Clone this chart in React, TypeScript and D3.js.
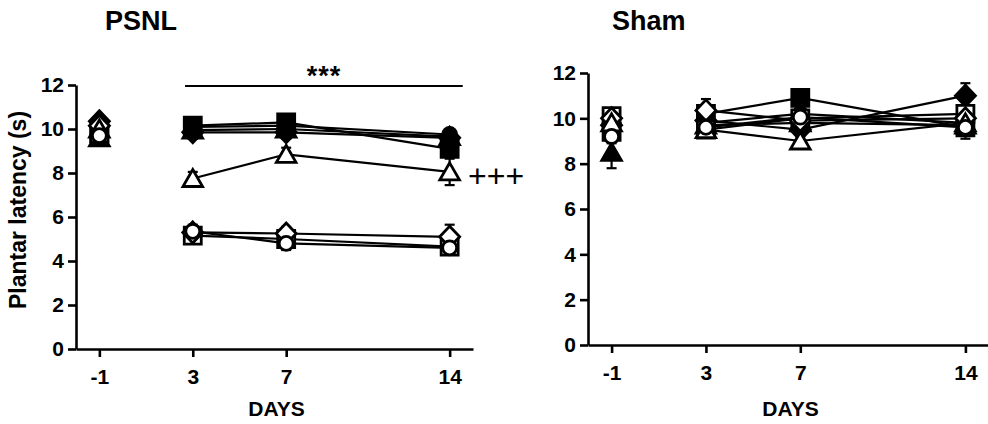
import React, { useRef, useEffect } from 'react';
import * as d3 from 'd3';

// Time points (days after surgery)
const days = [-1, 3, 7, 14];
const dayTicks = [-1, 3, 7, 14];
const yTicks = [0, 2, 4, 6, 8, 10, 12];

// Marker order: filled groups first, open groups drawn on top (circle last)
const seriesKeys = ['fSquare', 'fCircle', 'fTriangle', 'fDiamond', 'oSquare', 'oDiamond', 'oTriangle', 'oCircle'];

// PSNL panel, plantar latency (s)
const psnlValues: Record<string, number[]> = {
  fSquare: [9.8, 10.15, 10.3, 9.1],
  fCircle: [10.0, 10.1, 10.15, 9.75],
  fTriangle: [9.6, 9.95, 10.0, 9.65],
  fDiamond: [10.35, 9.85, 9.85, 9.6],
  oSquare: [9.8, 5.15, 5.0, 4.65],
  oCircle: [9.7, 5.35, 4.8, 4.6],
  oTriangle: [10.0, 7.75, 8.85, 8.05],
  oDiamond: [10.15, 5.3, 5.25, 5.1],
};
const psnlSem: Record<string, number[]> = {
  fSquare: [0.3, 0.3, 0.3, 0.3],
  fCircle: [0.3, 0.2, 0.3, 0.2],
  fTriangle: [0.3, 0.3, 0.3, 0.3],
  fDiamond: [0.2, 0.3, 0.3, 0.3],
  oSquare: [0.3, 0.3, 0.3, 0.3],
  oCircle: [0.3, 0.3, 0.3, 0.3],
  oTriangle: [0.3, 0.3, 0.3, 0.6],
  oDiamond: [0.3, 0.3, 0.3, 0.55],
};

// Sham panel
const shamValues: Record<string, number[]> = {
  fSquare: [9.4, 10.2, 10.9, 9.6],
  fCircle: [9.5, 9.8, 10.2, 9.8],
  fTriangle: [8.5, 9.7, 9.8, 9.7],
  fDiamond: [9.7, 9.9, 9.5, 11.0],
  oSquare: [10.1, 9.5, 10.0, 10.2],
  oCircle: [9.2, 9.6, 10.05, 9.6],
  oTriangle: [9.8, 9.5, 9.0, 9.8],
  oDiamond: [10.0, 10.35, 9.9, 10.0],
};
const shamSem: Record<string, number[]> = {
  fSquare: [0.3, 0.3, 0.3, 0.3],
  fCircle: [0.3, 0.3, 0.3, 0.3],
  fTriangle: [0.7, 0.3, 0.3, 0.3],
  fDiamond: [0.3, 0.3, 0.3, 0.55],
  oSquare: [0.3, 0.3, 0.3, 0.3],
  oCircle: [0.3, 0.3, 0.3, 0.5],
  oTriangle: [0.3, 0.3, 0.3, 0.3],
  oDiamond: [0.3, 0.5, 0.3, 0.3],
};

// significance bar spans (in days)
const sigSpan = [2.67, 14.56];

const FONT = '"Liberation Sans", Arial, Helvetica, sans-serif';

const shapes: Record<string, d3.SymbolType> = {
  square: { draw(ctx: any) { ctx.rect(-8.5, -8.5, 17, 17); } },
  circle: { draw(ctx: any) { ctx.moveTo(7, 0); ctx.arc(0, 0, 7, 0, 2 * Math.PI); } },
  triangle: { draw(ctx: any) { ctx.moveTo(0, -9); ctx.lineTo(9.8, 8); ctx.lineTo(-9.8, 8); ctx.closePath(); } },
  diamond: { draw(ctx: any) { ctx.moveTo(0, -10.5); ctx.lineTo(10, 0); ctx.lineTo(0, 10.5); ctx.lineTo(-10, 0); ctx.closePath(); } },
};

const shapeOf = (k: string) => k.slice(1).toLowerCase();

const drawPanel = (svg: any, opts: any) => {
  const { x0, x1, y0, y1, values, sem, title, titleX } = opts;
  const x = d3.scaleLinear().domain([-2, 15]).range([x0, x1]);
  const y = d3.scaleLinear().domain([0, 12]).range([y0, y1]);
  const g = svg.append('g');

  // axes
  const yAxis = g.append('g')
    .attr('transform', `translate(${x0},0)`)
    .call(d3.axisLeft(y).tickValues(yTicks).tickSize(8).tickSizeOuter(0).tickPadding(4));
  const xAxis = g.append('g')
    .attr('transform', `translate(0,${y0})`)
    .call(d3.axisBottom(x).tickValues(dayTicks).tickFormat((d: any) => String(d)).tickSize(8).tickSizeOuter(0).tickPadding(12));
  [yAxis, xAxis].forEach(a => {
    a.selectAll('path, line').attr('stroke', '#000').attr('stroke-width', 2.6);
    a.selectAll('text')
      .attr('fill', '#000')
      .attr('font-family', FONT)
      .attr('font-weight', 'bold')
      .attr('font-size', 21);
  });

  g.append('text')
    .attr('x', (x(-1) + x(14)) / 2 + 2)
    .attr('y', 416)
    .attr('text-anchor', 'middle')
    .attr('font-family', FONT)
    .attr('font-weight', 'bold')
    .attr('font-size', 21)
    .text('DAYS');

  g.append('text')
    .attr('x', titleX)
    .attr('y', 30)
    .attr('font-family', FONT)
    .attr('font-weight', 'bold')
    .attr('font-size', 27)
    .text(title);

  const line = d3.line<number>().x((_, i) => x(days[i + 1])).y(v => y(v));

  // connecting lines (baseline day -1 stands alone)
  seriesKeys.forEach(k => {
    g.append('path')
      .attr('d', line(values[k].slice(1)))
      .attr('fill', 'none')
      .attr('stroke', '#000')
      .attr('stroke-width', 2.2);
  });

  // error bars
  seriesKeys.forEach(k => {
    values[k].forEach((v: number, i: number) => {
      const cx = x(days[i]);
      const s = sem[k][i];
      g.append('line').attr('x1', cx).attr('x2', cx).attr('y1', y(v - s)).attr('y2', y(v + s))
        .attr('stroke', '#000').attr('stroke-width', 2.2);
      [v - s, v + s].forEach(e => {
        g.append('line').attr('x1', cx - 5).attr('x2', cx + 5).attr('y1', y(e)).attr('y2', y(e))
          .attr('stroke', '#000').attr('stroke-width', 2.2);
      });
    });
  });

  // markers
  seriesKeys.forEach(k => {
    const filled = k[0] === 'f';
    const sym = d3.symbol().type(shapes[shapeOf(k)]);
    g.selectAll(null)
      .data(values[k])
      .enter()
      .append('path')
      .attr('transform', (v: number, i: number) => `translate(${x(days[i])},${y(v)})`)
      .attr('d', sym as any)
      .attr('fill', filled ? '#000' : '#fff')
      .attr('stroke', '#000')
      .attr('stroke-width', 2.8)
      .attr('stroke-linejoin', 'miter');
  });

  return { x, y, g };
};

const App = () => {
  const svgRef = useRef<SVGSVGElement>(null);

  useEffect(() => {
    if (!svgRef.current) return;
    const svg = d3.select(svgRef.current);
    svg.selectAll('*').remove();

    const left = drawPanel(svg, {
      x0: 76, x1: 473, y0: 349, y1: 85,
      values: psnlValues, sem: psnlSem, title: 'PSNL', titleX: 105,
    });
    drawPanel(svg, {
      x0: 588, x1: 989, y0: 345, y1: 73,
      values: shamValues, sem: shamSem, title: 'Sham', titleX: 612,
    });

    // significance annotations
    const { x, g } = left;
    g.append('line')
      .attr('x1', x(sigSpan[0])).attr('x2', x(sigSpan[1]))
      .attr('y1', 86).attr('y2', 86)
      .attr('stroke', '#000').attr('stroke-width', 2);
    g.append('text')
      .attr('x', (x(sigSpan[0]) + x(sigSpan[1])) / 2)
      .attr('y', 85)
      .attr('text-anchor', 'middle')
      .attr('font-family', FONT)
      .attr('font-weight', 'bold')
      .attr('font-size', 27)
      .attr('letter-spacing', 1)
      .text('***');
    g.append('text')
      .attr('x', 468)
      .attr('y', 187)
      .attr('font-family', FONT)
      .attr('font-size', 32)
      .text('+++');

    // y-axis title
    svg.append('text')
      .attr('transform', 'translate(26,210) rotate(-90)')
      .attr('text-anchor', 'middle')
      .attr('font-family', FONT)
      .attr('font-weight', 'bold')
      .attr('font-size', 23)
      .text('Plantar latency (s)');
  }, []);

  return (
    <svg
      ref={svgRef}
      width={988}
      height={424}
      style={{ position: 'absolute', left: 0, top: 0, background: '#fff' }}
    />
  );
};

export default App;
